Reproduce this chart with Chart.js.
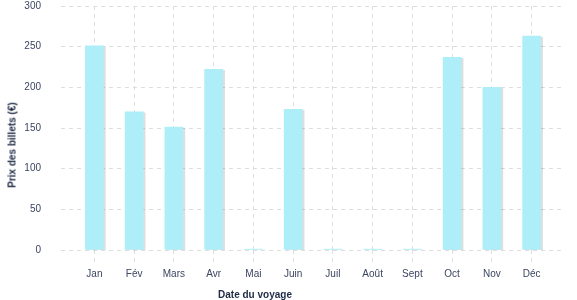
<!DOCTYPE html>
<html>
<head>
<meta charset="utf-8">
<script src="https://cdn.jsdelivr.net/npm/chart.js@4"></script>
<style>
  html, body { margin:0; padding:0; background:#fff; }
  #wrap { position:relative; width:577px; height:300px; }
  canvas { position:absolute; left:0; top:0; }
  .ttl { position:absolute; font-family:"Liberation Sans", Arial, sans-serif; font-weight:bold; font-size:10px; color:#1f2a44; white-space:nowrap; }
  #xt { left:255px; top:294px; transform:translate(-50%,-50%); }
  #yt { left:12px; top:145px; transform:translate(-50%,-50%) rotate(-90deg); }
</style>
</head>
<body>
<div id="wrap">
  <canvas id="c" width="577" height="300"></canvas>
  <div class="ttl" id="xt">Date du voyage</div>
  <div class="ttl" id="yt">Prix des billets (€)</div>
</div>
<script>
const months = ["Jan","Fév","Mars","Avr","Mai","Juin","Juil","Août","Sept","Oct","Nov","Déc"];
const prices = [251, 170, 151, 222, 1, 173, 1, 1, 1, 237, 200, 263];
const yTicks = [0, 50, 100, 150, 200, 250, 300];

const points = months.map((m, i) => ({ x: i, y: prices[i] }));

const shadowPlugin = {
  id: 'barShadow',
  beforeDatasetsDraw(chart) {
    const ctx = chart.ctx;
    ctx.save();
    ctx.shadowColor = 'rgba(0,0,0,0.13)';
    ctx.shadowOffsetX = 2;
    ctx.shadowOffsetY = 1;
    ctx.shadowBlur = 0;
  },
  afterDatasetsDraw(chart) {
    chart.ctx.restore();
  }
};

const gridColor = '#dddddd';
const tickFont = { family: '"Liberation Sans", Arial, sans-serif', size: 10 };

new Chart(document.getElementById('c'), {
  type: 'bar',
  data: {
    datasets: [{
      data: points,
      backgroundColor: '#aeeef8',
      borderWidth: 0,
      barThickness: 18
    }]
  },
  options: {
    responsive: false,
    animation: false,
    events: [],
    layout: { padding: { top: 6, right: 12, left: 0, bottom: 0 } },
    plugins: { legend: { display: false }, tooltip: { enabled: false } },
    scales: {
      x: {
        type: 'linear',
        offset: false,
        min: -0.84,
        max: 11.84,
        afterBuildTicks(scale) { scale.ticks = months.map((m, i) => ({ value: i })); },
        afterFit(scale) { scale.height = 50; },
        ticks: {
          autoSkip: false,
          maxRotation: 0,
          padding: 6,
          color: '#3b4560',
          font: tickFont,
          callback: (v) => months[v] ?? ''
        },
        grid: {
          offset: false,
          color: gridColor,
          lineWidth: 1,
          drawTicks: true,
          tickLength: 12,
          tickColor: gridColor,
          tickBorderDash: [4, 4]
        },
        border: { display: false, dash: [4, 4] }
      },
      y: {
        min: 0,
        max: 300,
        afterBuildTicks(scale) { scale.ticks = yTicks.map(v => ({ value: v })); },
        afterFit(scale) { scale.width = 61; },
        ticks: {
          padding: 0,
          color: '#3b4560',
          font: tickFont
        },
        grid: {
          color: gridColor,
          lineWidth: 1,
          drawTicks: true,
          tickLength: 20,
          tickColor: 'rgba(0,0,0,0)'
        },
        border: { display: false, dash: [4, 4] }
      }
    }
  },
  plugins: [shadowPlugin]
});
</script>
</body>
</html>
